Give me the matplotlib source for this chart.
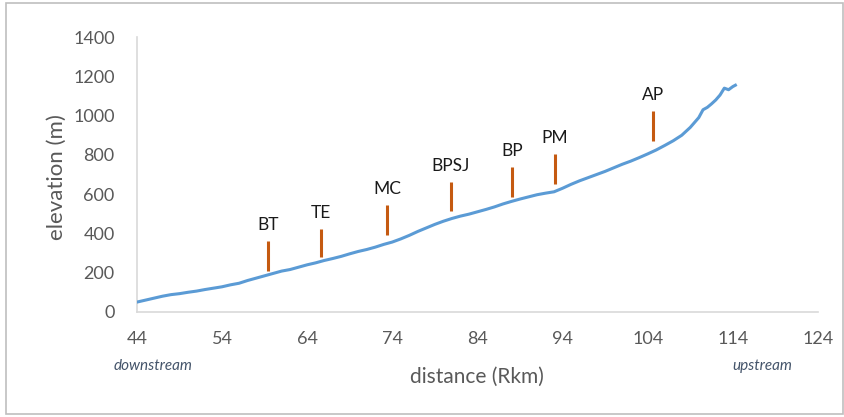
import matplotlib.pyplot as plt
from matplotlib.patches import Rectangle

# River profile (distance in Rkm, elevation in m)
distance = [44, 45, 46, 47, 48, 49, 50, 51, 52, 53, 54, 55, 56, 57, 58, 59, 60,
            61, 62, 63, 64, 65, 66, 67, 68, 69, 70, 71, 72, 73, 74, 75, 76, 77,
            78, 79, 80, 81, 82, 83, 84, 85, 86, 87, 88, 89, 90, 91, 92, 93, 94,
            95, 96, 97, 98, 99, 100, 101, 102, 103, 104, 105, 106, 107, 108,
            109, 110, 110.5, 111, 111.5, 112, 112.5, 113, 113.5, 114, 114.3]
elevation = [50, 60, 70, 80, 88, 93, 100, 106, 114, 121, 128, 138, 146, 160,
             172, 184, 196, 208, 216, 228, 240, 250, 262, 272, 283, 296, 308,
             318, 330, 344, 356, 372, 390, 410, 428, 446, 462, 476, 488, 498,
             510, 522, 535, 550, 563, 575, 586, 597, 605, 612, 630, 650, 668,
             684, 700, 716, 734, 752, 768, 786, 805, 825, 848, 872, 900, 940,
             990, 1030, 1042, 1060, 1080, 1105, 1140, 1132, 1148, 1155]

# Sites along the river
site_names = ['BT', 'TE', 'MC', 'BPSJ', 'BP', 'PM', 'AP']
site_dist = [59.4, 65.6, 73.4, 80.9, 88.1, 93.1, 104.6]
site_low = [210, 280, 392, 514, 585, 652, 870]
site_high = [362, 423, 545, 662, 738, 805, 1023]

plt.rcParams['font.family'] = ['Lato', 'DejaVu Sans']

fig = plt.figure(figsize=(8.45, 4.17), dpi=100)
ax = fig.add_axes([0.162, 0.252, 0.806, 0.659])

ax.plot(distance, elevation, color='#5B9BD5', lw=2.2, zorder=3)

for name, d, lo, hi in zip(site_names, site_dist, site_low, site_high):
    ax.plot([d, d], [lo, hi], color='#C55A11', lw=2.2, solid_capstyle='butt')
    ax.text(d, hi + 40, name, ha='center', va='bottom', fontsize=12.5, color='#1a1a1a')

ax.set_xlim(44, 124)
ax.set_ylim(0, 1400)
ax.set_xticks(range(44, 125, 10))
ax.set_yticks(range(0, 1401, 200))
ax.tick_params(length=0, labelsize=13, labelcolor='#595959')
ax.tick_params(axis='x', pad=14)
ax.tick_params(axis='y', pad=16)

for side in ['top', 'right']:
    ax.spines[side].set_visible(False)
for side in ['left', 'bottom']:
    ax.spines[side].set_color('#D9D9D9')
    ax.spines[side].set_linewidth(1.2)

ax.set_xlabel('distance (Rkm)', fontsize=15, color='#595959', labelpad=14)
# y label placed directly in figure coordinates
fig.text(57 / 845, 1 - 177 / 417, 'elevation (m)', rotation=90, ha='center',
         va='center', fontsize=16, color='#595959')

fig.text(153 / 845, 1 - 366 / 417, 'downstream', ha='center', va='center',
         fontsize=11, style='italic', color='#44546A')
fig.text(762 / 845, 1 - 366 / 417, 'upstream', ha='center', va='center',
         fontsize=11, style='italic', color='#44546A')

# light frame around the whole chart
fig.patches.append(Rectangle((6 / 845, 3 / 417), 837 / 845, 411 / 417,
                             transform=fig.transFigure, fill=False,
                             edgecolor='#BFBFBF', lw=1.2))

fig.savefig('out.png', dpi=100)
